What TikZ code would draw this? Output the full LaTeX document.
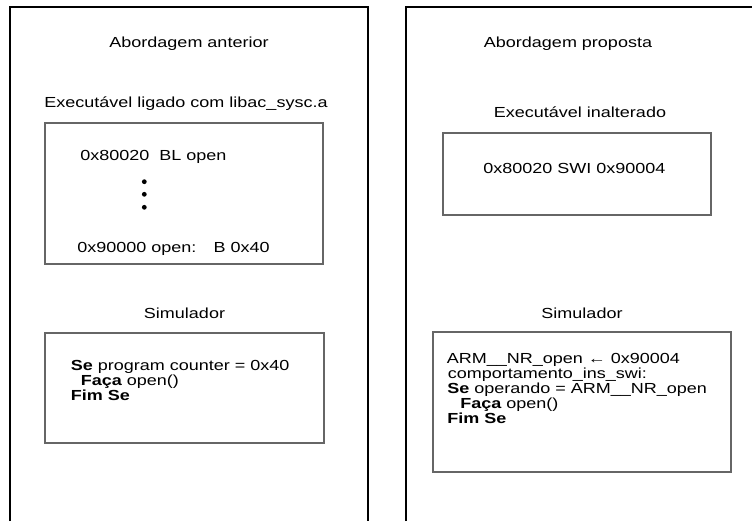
\documentclass[tikz,border=0pt]{standalone}
\usepackage{graphicx}
\usepackage{fontspec}
\setmainfont{Liberation Sans}
\newcommand{\vsq}[1]{\scalebox{1}[0.81]{#1}}
\begin{document}
\begin{tikzpicture}[x=0.75pt,y=-0.75pt,
  panel/.style={draw=black,line width=1pt},
  innerbox/.style={draw=black!60,line width=1.1pt},
  txt/.style={inner sep=0pt,font=\fontsize{13.5}{15}\selectfont},
  ltxt/.style={txt,anchor=base west},
  ctxt/.style={txt,anchor=base},
  dotmark/.style={fill=black,circle,inner sep=0pt,minimum size=3.6pt}]
\useasboundingbox (0,0) rectangle (752,521);
% panels
\coordinate (lpbl) at (10,521); \coordinate (lptl) at (10,7);
\coordinate (lptr) at (368,7); \coordinate (lpbr) at (368,521);
\draw[panel] (lpbl) -- (lptl) -- (lptr) -- (lpbr);
\coordinate (rpbl) at (406,521); \coordinate (rptl) at (406,7);
\coordinate (rptr) at (752,7);
\draw[panel] (rpbl) -- (rptl) -- (rptr);
% left panel
\node[ctxt] (t1) at (189,47.5) {\vsq{Abordagem anterior}};
\node[ctxt] (t2) at (186,107.5) {\vsq{Executável ligado com libac\_sysc.a}};
\draw[innerbox] (45,123) rectangle (323,264);
\node[ltxt] (a1) at (80,160) {\vsq{0x80020\hspace{7.5pt}BL open}};
\node[dotmark] (d1) at (144.3,181.7) {};
\node[dotmark] (d2) at (144.3,194.3) {};
\node[dotmark] (d3) at (144.3,207.3) {};
\node[ltxt] (a2) at (77,252.5) {\vsq{0x90000 open:\hspace{13pt}B 0x40}};
\node[ctxt] (t3) at (184.5,318.5) {\vsq{Simulador}};
\draw[innerbox] (45,333) rectangle (324,443);
\node[ltxt] (s1) at (70.5,370.5) {\vsq{\textbf{Se} program counter = 0x40}};
\node[ltxt] (s2) at (80.5,385.5) {\vsq{\textbf{Faça} open()}};
\node[ltxt] (s3) at (70.5,400) {\vsq{\textbf{Fim Se}}};
% right panel
\node[ctxt] (u1) at (568,47.5) {\vsq{Abordagem proposta}};
\node[ctxt] (u2) at (580,117.5) {\vsq{Executável inalterado}};
\draw[innerbox] (443,133) rectangle (711,215);
\node[ltxt] (b1) at (483,173.5) {\vsq{0x80020 SWI 0x90004}};
\node[ctxt] (u3) at (582,318.5) {\vsq{Simulador}};
\draw[innerbox] (433,332) rectangle (731,472);
\node[ltxt] (r1) at (446.5,363.5) {\vsq{ARM\_\_NR\_open ← 0x90004}};
\node[ltxt] (r2) at (447.5,378.5) {\vsq{comportamento\_ins\_swi:}};
\node[ltxt] (r3) at (447,393.5) {\vsq{\textbf{Se} operando = ARM\_\_NR\_open}};
\node[ltxt] (r4) at (460,408.5) {\vsq{\textbf{Faça} open()}};
\node[ltxt] (r5) at (447,423) {\vsq{\textbf{Fim Se}}};
\end{tikzpicture}
\end{document}
